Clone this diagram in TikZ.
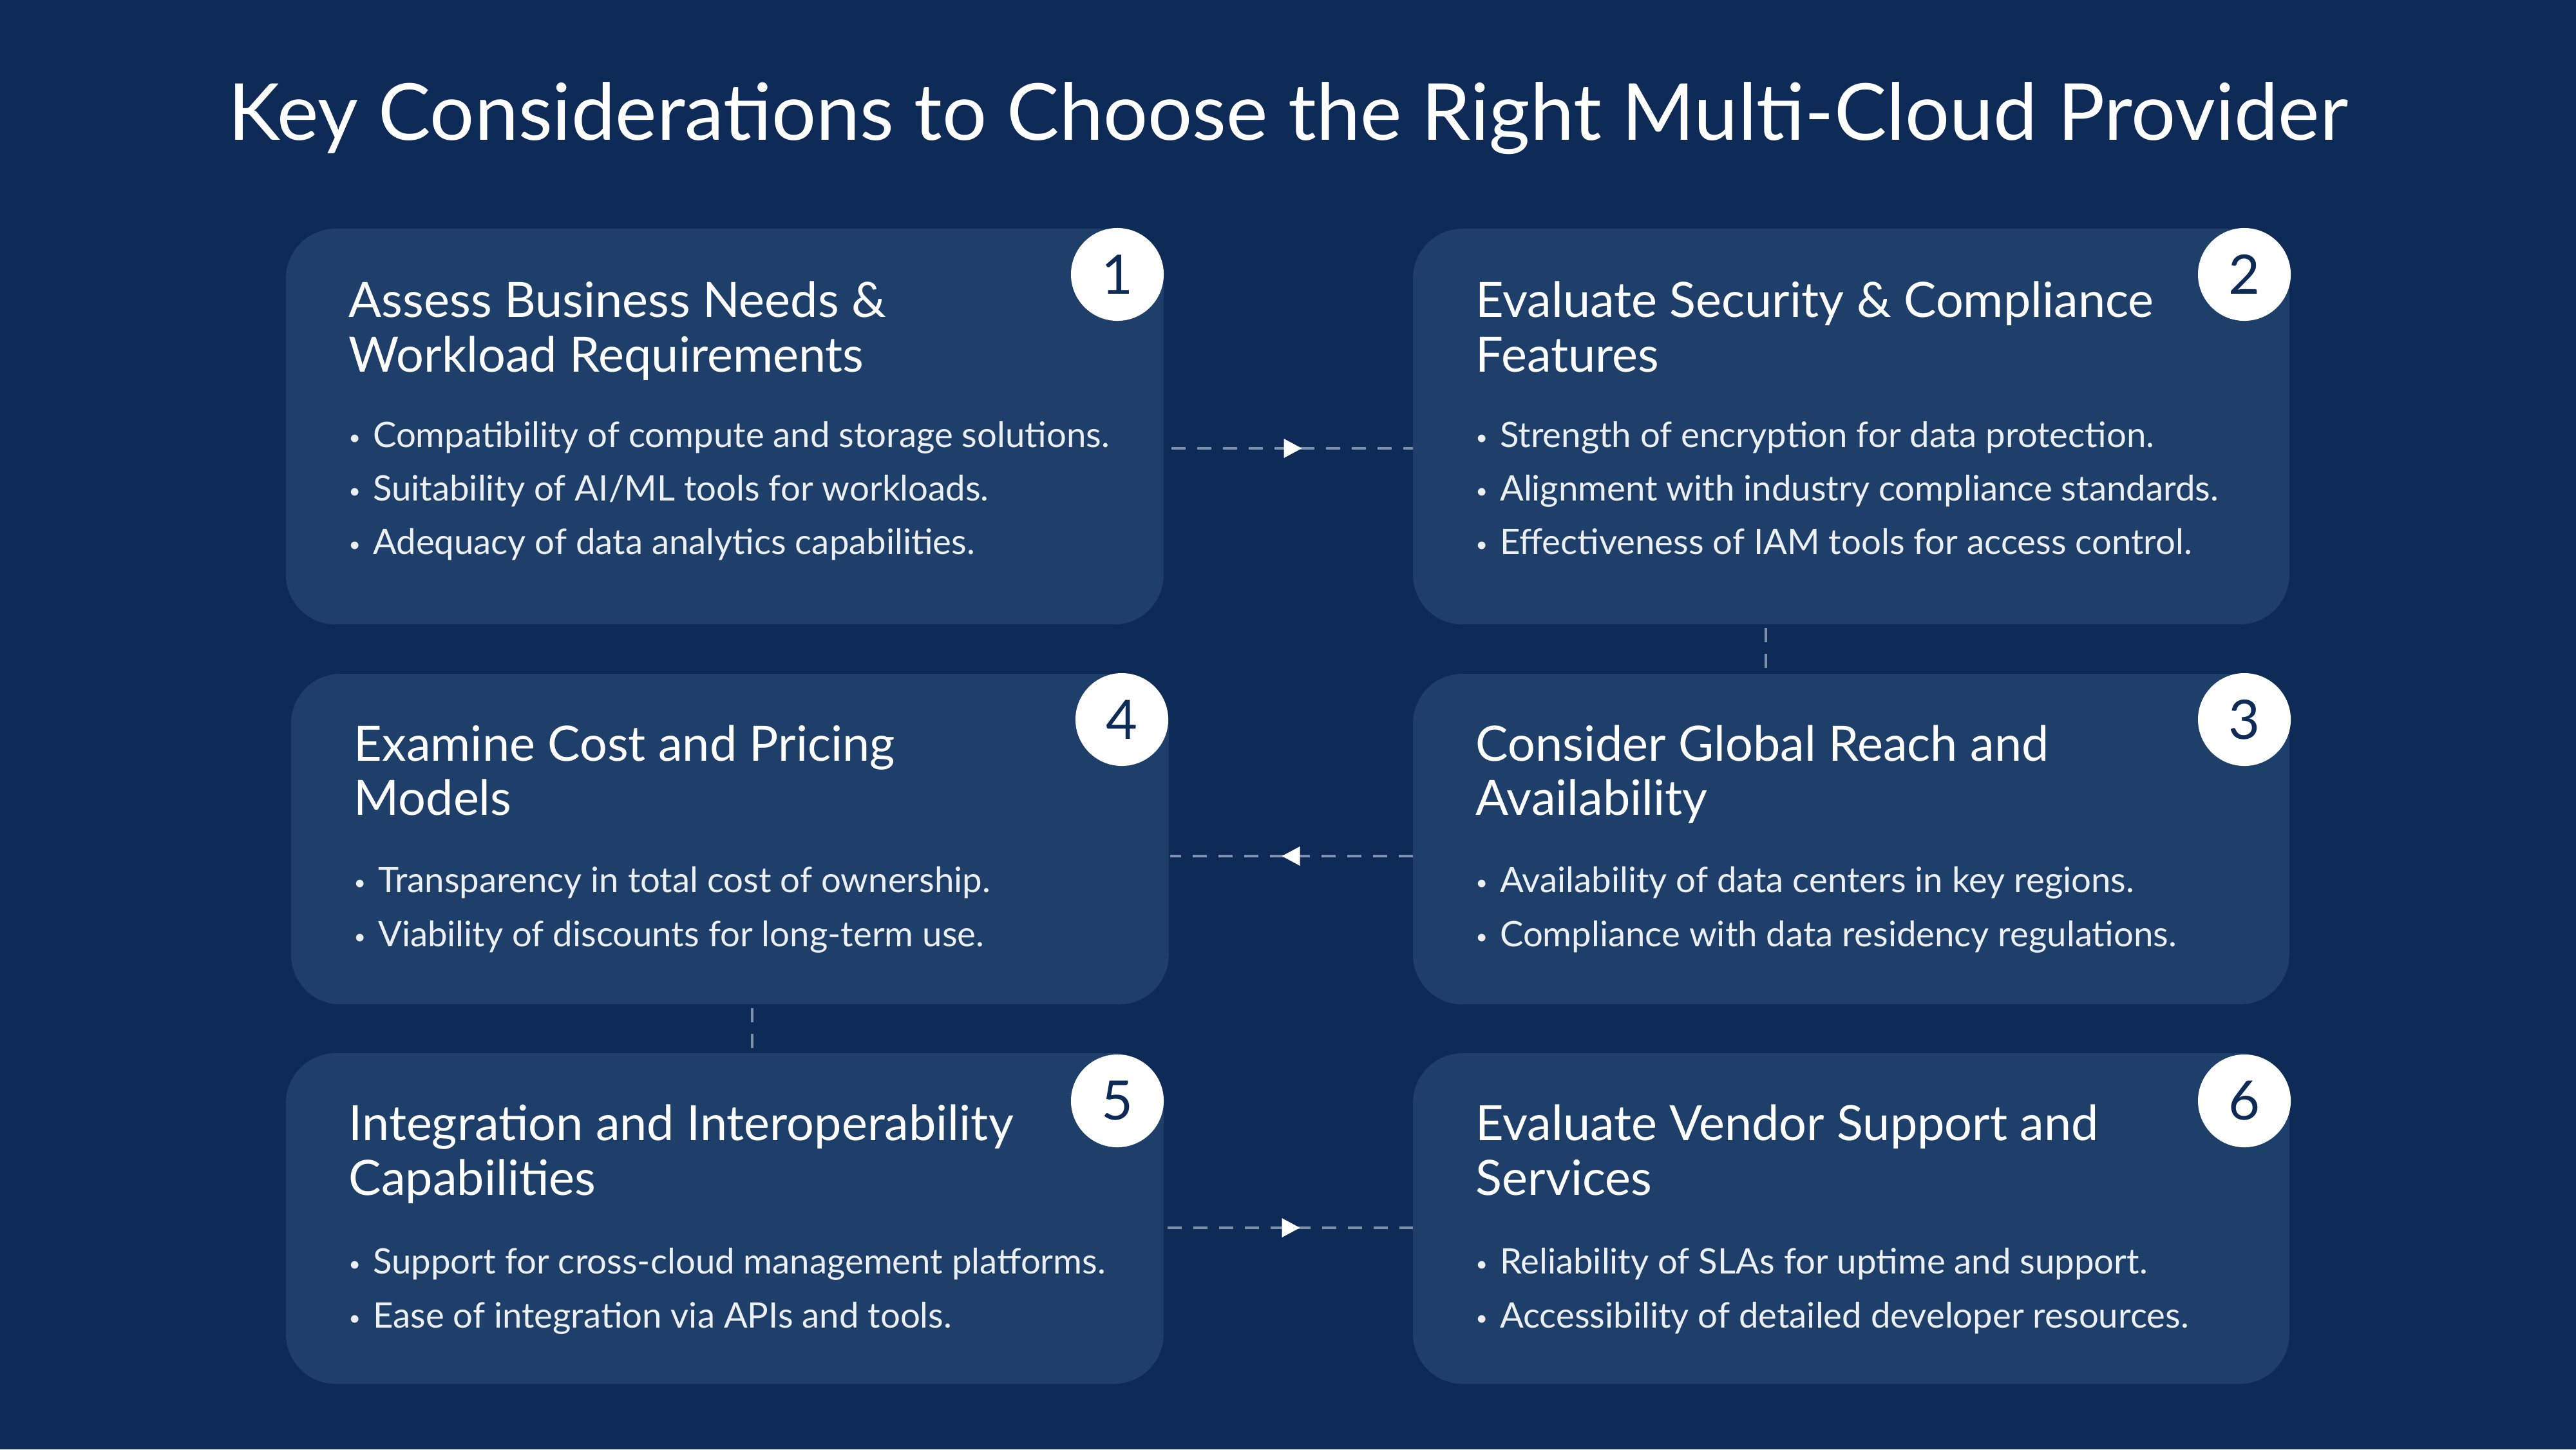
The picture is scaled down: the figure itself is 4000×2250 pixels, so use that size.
\documentclass[tikz,border=0pt]{standalone}
\usepackage{fontspec}
\setmainfont{Lato}
\usetikzlibrary{decorations.markings,arrows.meta,calc}
\definecolor{bgc}{HTML}{0E2A57}
\definecolor{boxc}{HTML}{1F3F6B}
\definecolor{numc}{HTML}{0E2A57}
\definecolor{dashc}{HTML}{7F90AC}
\tikzset{
 card/.style={fill=boxc,rounded corners=0.77cm,draw=none,anchor=north west,inner sep=0,outer sep=0},
 badge/.style={circle,fill=white,minimum size=1.44cm,inner sep=0,text=numc,font=\fontsize{24}{28}\selectfont},
 head/.style={anchor=base west,text=white,inner sep=0,font=\fontsize{21.5}{26}\selectfont},
 bul/.style={anchor=base west,text=white!92!boxc,inner sep=0,font=\fontsize{15.5}{19}\selectfont\fontseries{l}\selectfont},
 conn/.style={draw=dashc,line width=0.035cm,dash pattern=on 0.22cm off 0.18cm,
   postaction={decorate},decoration={markings,mark=at position 0.5 with {\fill[white] (15,0)--(-13,15)--(-13,-15)--cycle;}}},
 vconn/.style={draw=dashc,line width=0.035cm,dash pattern=on 0.22cm off 0.18cm}
}
\newcommand{\bl}[1]{{\fontsize{9}{9}\selectfont\raisebox{0.25ex}{\textbullet}}\hspace{0.35em}#1}
\begin{document}
\begin{tikzpicture}[x=0.01cm,y=-0.01cm]
\fill[bgc] (0,0) rectangle (4000,2250);
\useasboundingbox (0,0) rectangle (4000,2250);
\node[anchor=base,text=white,inner sep=0,font=\fontsize{34.7}{42}\selectfont] (title) at (2000,217) {Key Considerations to Choose the Right Multi-Cloud Provider};
% boxes
\node[card,minimum width=13.62cm,minimum height=6.14cm] (b1) at (444,355) {};
\node[card,minimum width=13.60cm,minimum height=6.14cm] (b2) at (2194,355) {};
\node[card,minimum width=13.62cm,minimum height=5.13cm] (b4) at (452,1046) {};
\node[card,minimum width=13.60cm,minimum height=5.13cm] (b3) at (2194,1046) {};
\node[card,minimum width=13.62cm,minimum height=5.13cm] (b5) at (444,1635) {};
\node[card,minimum width=13.60cm,minimum height=5.13cm] (b6) at (2194,1635) {};
% connectors
\coordinate (c12a) at (1819,696); \coordinate (c12b) at (2194,696);
\draw[conn] (c12a) -- (c12b);
\coordinate (c34a) at (2194,1329); \coordinate (c34b) at (1817,1329);
\draw[conn] (c34a) -- (c34b);
\coordinate (c56a) at (1813,1906); \coordinate (c56b) at (2194,1906);
\draw[conn] (c56a) -- (c56b);
\coordinate (c23a) at (2742,975); \coordinate (c23b) at (2742,1046);
\draw[vconn] (c23a) -- (c23b);
\coordinate (c45a) at (1168,1565); \coordinate (c45b) at (1168,1635);
\draw[vconn] (c45a) -- (c45b);
% badges
\node[badge] (n1) at (1735,426) {1};
\node[badge] (n2) at (3485,426) {2};
\node[badge] (n4) at (1742,1117) {4};
\node[badge] (n3) at (3485,1117) {3};
\node[badge] (n5) at (1735,1709) {5};
\node[badge] (n6) at (3485,1709) {6};
% box 1
\node[head] (h1a) at (541,492) {Assess Business Needs \&};
\node[head] (h1b) at (541,577) {Workload Requirements};
\node[bul] (t1a) at (541,694) {\bl{Compatibility of compute and storage solutions.}};
\node[bul] (t1b) at (541,777) {\bl{Suitability of AI/ML tools for workloads.}};
\node[bul] (t1c) at (541,860) {\bl{Adequacy of data analytics capabilities.}};
% box 2
\node[head] (h2a) at (2291,492) {Evaluate Security \& Compliance};
\node[head] (h2b) at (2291,577) {Features};
\node[bul] (t2a) at (2291,694) {\bl{Strength of encryption for data protection.}};
\node[bul] (t2b) at (2291,777) {\bl{Alignment with industry compliance standards.}};
\node[bul] (t2c) at (2291,860) {\bl{Effectiveness of IAM tools for access control.}};
% box 4
\node[head] (h4a) at (549,1181) {Examine Cost and Pricing};
\node[head] (h4b) at (549,1265) {Models};
\node[bul] (t4a) at (549,1385) {\bl{Transparency in total cost of ownership.}};
\node[bul] (t4b) at (549,1469) {\bl{Viability of discounts for long-term use.}};
% box 3
\node[head] (h3a) at (2291,1181) {Consider Global Reach and};
\node[head] (h3b) at (2291,1265) {Availability};
\node[bul] (t3a) at (2291,1385) {\bl{Availability of data centers in key regions.}};
\node[bul] (t3b) at (2291,1469) {\bl{Compliance with data residency regulations.}};
% box 5
\node[head] (h5a) at (541,1770) {Integration and Interoperability};
\node[head] (h5b) at (541,1855) {Capabilities};
\node[bul] (t5a) at (541,1977) {\bl{Support for cross-cloud management platforms.}};
\node[bul] (t5b) at (541,2061) {\bl{Ease of integration via APIs and tools.}};
% box 6
\node[head] (h6a) at (2291,1770) {Evaluate Vendor Support and};
\node[head] (h6b) at (2291,1855) {Services};
\node[bul] (t6a) at (2291,1977) {\bl{Reliability of SLAs for uptime and support.}};
\node[bul] (t6b) at (2291,2061) {\bl{Accessibility of detailed developer resources.}};
\end{tikzpicture}
\end{document}
